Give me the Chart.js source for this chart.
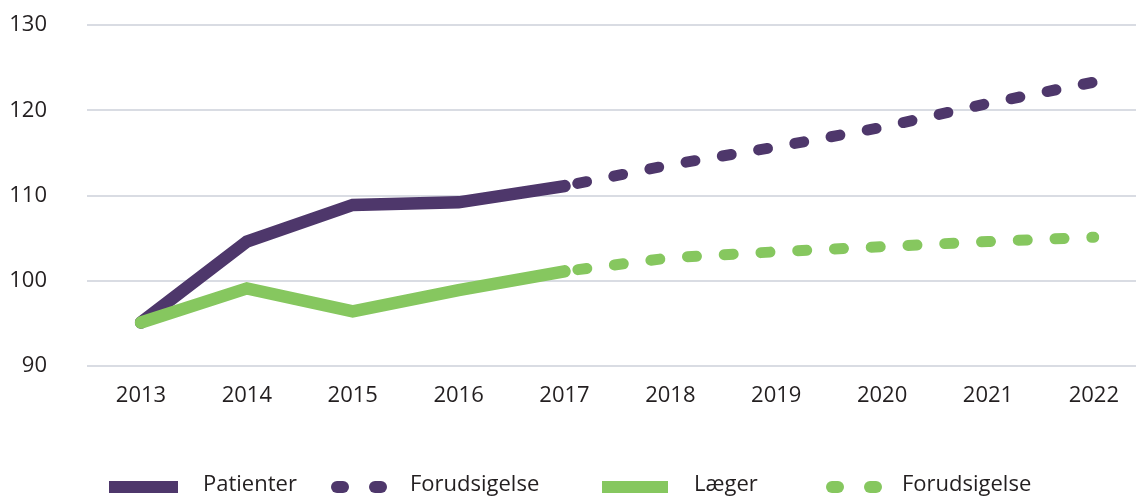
<!DOCTYPE html>
<html>
<head>
<meta charset="utf-8">
<script src="https://cdn.jsdelivr.net/npm/chart.js@4"></script>
<style>
  body { margin: 0; background: #fff; }
  #wrap { position: relative; width: 1136px; height: 496px; font-family: "Open Sans", sans-serif; color: #231f20; }
  .lg { position: absolute; font-size: 22px; line-height: 24px; top: 470px; white-space: nowrap; }
  .box { position: absolute; top: 481px; height: 12px; }
  .dot { position: absolute; top: 481px; width: 18px; height: 12px; border-radius: 6px; }
</style>
</head>
<body>
<div id="wrap">
  <canvas id="chart" width="1136" height="496"></canvas>
  <div class="box" style="left:109px;width:69px;background:#4e376b"></div>
  <div class="lg" style="left:203px">Patienter</div>
  <div class="dot" style="left:331px;background:#4e376b"></div>
  <div class="dot" style="left:369px;background:#4e376b"></div>
  <div class="lg" style="left:410px">Forudsigelse</div>
  <div class="box" style="left:602px;width:66px;background:#86c75f"></div>
  <div class="lg" style="left:694px">Læger</div>
  <div class="dot" style="left:826px;background:#86c75f"></div>
  <div class="dot" style="left:864px;background:#86c75f"></div>
  <div class="lg" style="left:902px">Forudsigelse</div>
</div>
<script>
const years = ["2013", "2014", "2015", "2016", "2017", "2018", "2019", "2020", "2021", "2022"];
const patienter = [95.1, 104.6, 108.9, 109.2, 111.1];
const patienterForecast = [null, null, null, null, 111.1, 113.6, 115.7, 118.0, 120.8, 123.3];
const laeger = [95.1, 99.1, 96.4, 98.9, 101.1];
const laegerForecast = [null, null, null, null, 101.1, 102.7, 103.4, 104.0, 104.6, 105.1];
const yTicks = [90, 100, 110, 120, 130];

const purple = "#4e376b";
const green = "#86c75f";

// horizontal grid lines run past the plot area, from the labels to the right edge
const wideGrid = {
  id: "wideGrid",
  beforeDatasetsDraw(chart) {
    const ctx = chart.ctx;
    const y = chart.scales.y;
    ctx.save();
    ctx.strokeStyle = "#d9dce3";
    ctx.lineWidth = 2;
    yTicks.forEach((v) => {
      const py = Math.round(y.getPixelForValue(v));
      ctx.beginPath();
      ctx.moveTo(87, py);
      ctx.lineTo(chart.width, py);
      ctx.stroke();
    });
    ctx.restore();
  },
};

const solid = {
  borderWidth: 12.5,
  borderCapStyle: "round",
  borderJoinStyle: "miter",
  pointRadius: 0,
  tension: 0,
};
const dashed = {
  borderWidth: 11,
  borderCapStyle: "round",
  borderDash: [9, 27.8],
  borderDashOffset: -13.5,
  pointRadius: 0,
  tension: 0,
};

// first dataset is drawn on top: green solid sits over purple at 2013
new Chart(document.getElementById("chart"), {
  type: "line",
  data: {
    labels: years,
    datasets: [
      { label: "Læger", data: laeger, borderColor: green, backgroundColor: green, ...solid },
      { label: "Patienter", data: patienter, borderColor: purple, backgroundColor: purple, ...solid },
      { label: "Forudsigelse", data: patienterForecast, borderColor: purple, backgroundColor: purple, ...dashed },
      { label: "Forudsigelse", data: laegerForecast, borderColor: green, backgroundColor: green, ...dashed },
    ],
  },
  options: {
    responsive: false,
    animation: false,
    events: [],
    layout: { padding: { left: 0, right: 29, top: 25, bottom: 92 } },
    plugins: { legend: { display: false }, tooltip: { enabled: false } },
    scales: {
      x: {
        offset: false,
        grid: { display: false, drawTicks: false },
        border: { display: false },
        afterFit(scale) {
          scale.height = 38;
        },
        ticks: {
          padding: 17,
          color: "#231f20",
          font: { family: "Open Sans", size: 22 },
          maxRotation: 0,
          autoSkip: false,
        },
      },
      y: {
        min: 90,
        max: 130,
        grid: { display: false, drawTicks: false },
        border: { display: false },
        afterFit(scale) {
          scale.width = 141;
          scale.paddingTop = 0;
          scale.paddingBottom = 0;
        },
        ticks: {
          stepSize: 10,
          padding: 94,
          color: "#231f20",
          font: { family: "Open Sans", size: 22 },
        },
      },
    },
  },
  plugins: [wideGrid],
});
</script>
</body>
</html>
